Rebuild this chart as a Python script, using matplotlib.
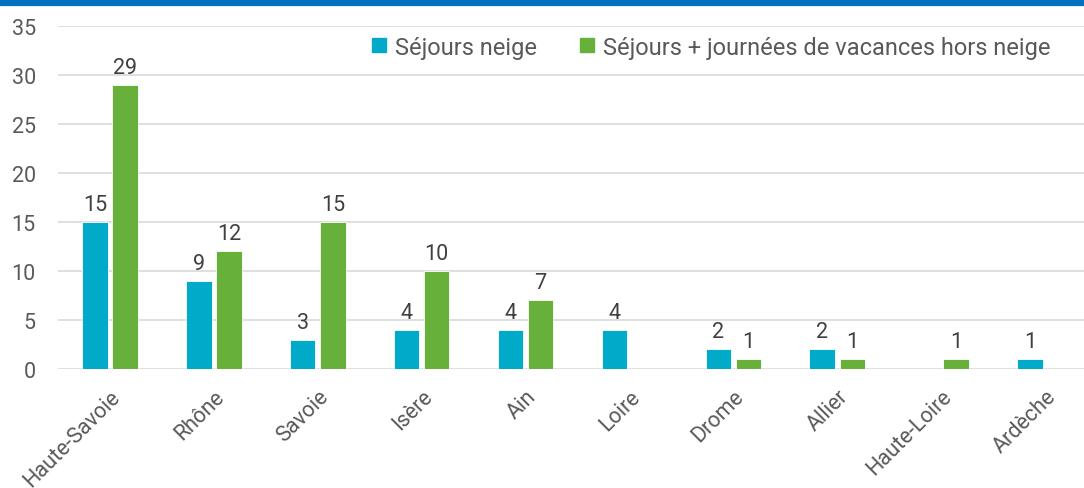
import matplotlib.pyplot as plt
import numpy as np
from matplotlib.lines import Line2D

# data
departements = ["Haute-Savoie", "Rhône", "Savoie", "Isère", "Ain", "Loire",
                "Drome", "Allier", "Haute-Loire", "Ardèche"]
sejours_neige = [15, 9, 3, 4, 4, 4, 2, 2, 0, 1]
sejours_hors_neige = [29, 12, 15, 10, 7, 0, 1, 1, 1, 0]
yticks = [0, 5, 10, 15, 20, 25, 30, 35]

blue = "#00AAC8"
green = "#67B13B"
text_col = "#595959"

plt.rcParams["font.family"] = ["Roboto", "DejaVu Sans"]

fig = plt.figure(figsize=(10.84, 4.89), dpi=100)
ax = fig.add_axes([58 / 1084, 119 / 489, 1039 / 1084, 343 / 489])

x = np.arange(len(departements))
w = 0.245
b1 = ax.bar(x - 0.145, sejours_neige, w, color=blue, edgecolor="white", linewidth=0.6, zorder=3)
b2 = ax.bar(x + 0.145, sejours_hors_neige, w, color=green, edgecolor="white", linewidth=0.6, zorder=3)

# labels only on non-empty bars
for bars, vals in [(b1, sejours_neige), (b2, sejours_hors_neige)]:
    labels = [str(v) if v else "" for v in vals]
    ax.bar_label(bars, labels=labels, padding=5, fontsize=15.5, color="#404040")

ax.set_xlim(-0.5, len(departements) - 0.5)
ax.set_ylim(0, 35)
ax.set_yticks(yticks)
ax.yaxis.grid(True, color="#d9d9d9", linewidth=1.2, zorder=0)
ax.set_axisbelow(True)
for s in ax.spines.values():
    s.set_visible(False)
ax.tick_params(axis="both", length=0, labelsize=15.5, labelcolor=text_col)
ax.tick_params(axis="y", pad=16)
ax.set_xticks(x)
ax.set_xticklabels(departements, rotation=45, ha="right", rotation_mode="anchor")
ax.tick_params(axis="x", pad=12)

handles = [
    Line2D([], [], marker="s", linestyle="none", markersize=10, color=blue),
    Line2D([], [], marker="s", linestyle="none", markersize=10, color=green),
]
fig.legend(handles, ["Séjours neige", "Séjours + journées de vacances hors neige"],
           loc="center right", bbox_to_anchor=(1072 / 1084, 1 - 48 / 489), ncol=2,
           frameon=False, fontsize=17, labelcolor=text_col, handletextpad=0.2,
           columnspacing=1.6, handlelength=1.0)

# blue band on top of the figure
fig.add_artist(Line2D([0, 1], [1 - 4 / 489, 1 - 4 / 489], transform=fig.transFigure,
                      color="#0070C0", linewidth=4.5))

fig.savefig("out.png", dpi=100)
plt.close()
